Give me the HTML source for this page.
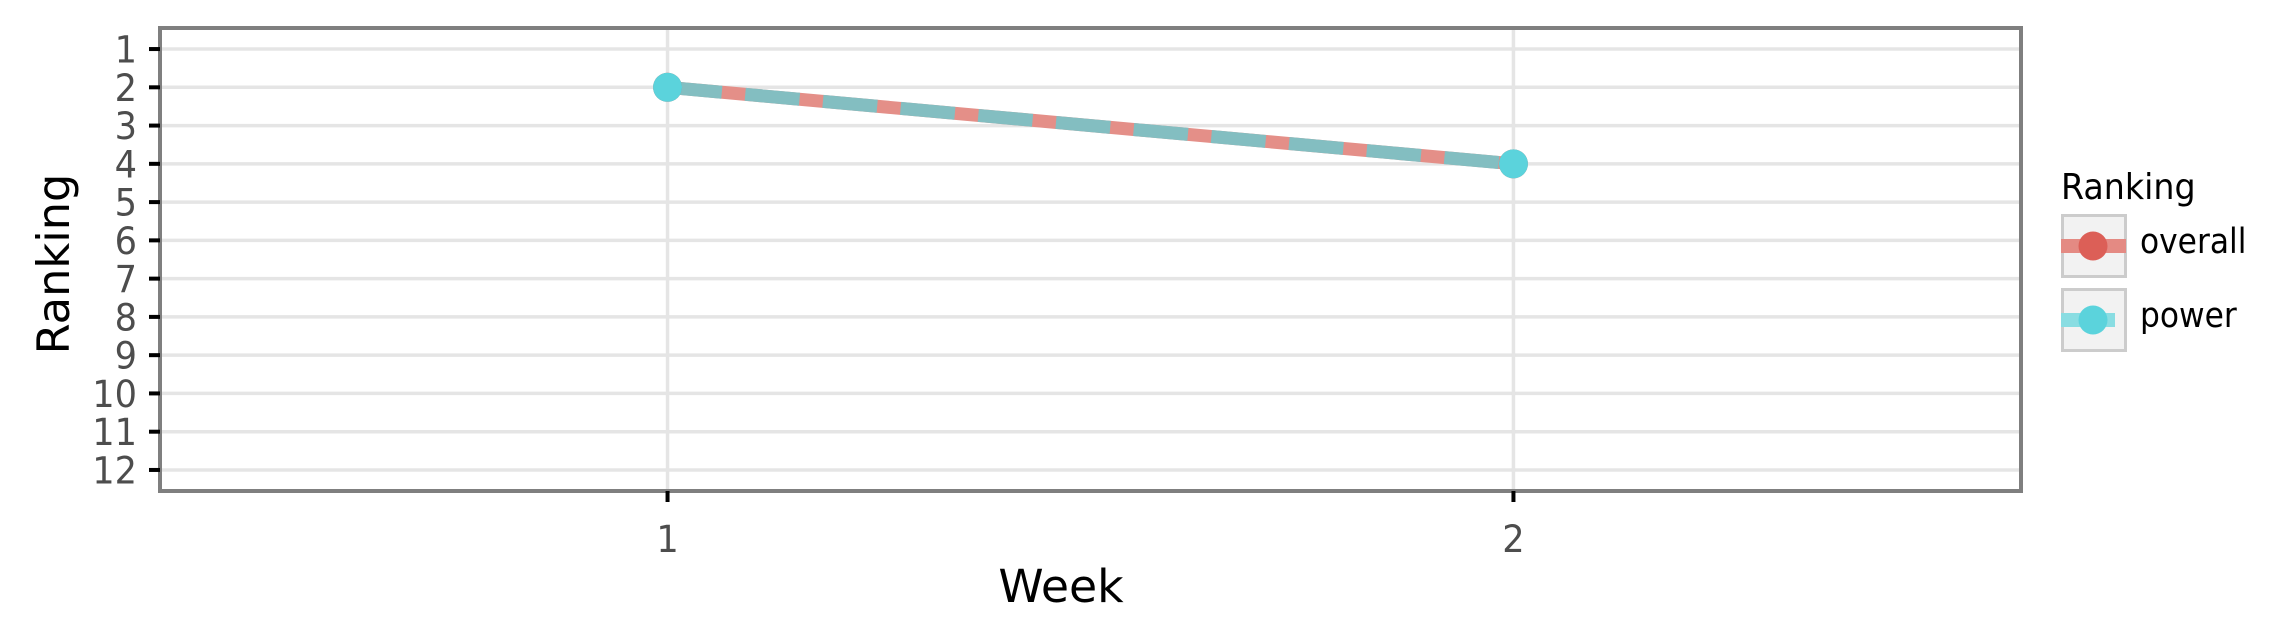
<!DOCTYPE html>
<html><head><meta charset="utf-8"><style>
html,body{margin:0;padding:0;background:#fff;}
svg{display:block;font-family:"DejaVu Sans","Liberation Sans",sans-serif;}
</style></head><body>
<svg id="chart" width="2276" height="641" viewBox="0 0 2276 641" xmlns="http://www.w3.org/2000/svg">
<g id="grid"></g>
<g id="series"></g>
<rect x="160" y="28" width="1861" height="463" fill="none" stroke="#7f7f7f" stroke-width="4"/>
<g id="axes"></g>
<text transform="translate(1061,602) scale(1.04,1.04)" font-size="44" text-anchor="middle" fill="#000">Week</text>
<text transform="translate(69,264) rotate(-90) scale(1.04,1.04)" font-size="43" text-anchor="middle" fill="#000">Ranking</text>
<g>
<text transform="translate(2061,199) scale(1.04,1.12)" font-size="32" fill="#000">Ranking</text>
<g>
<rect x="2062.5" y="215.5" width="63" height="61" fill="#f2f2f2" stroke="#cccccc" stroke-width="3"/>
<rect x="2061" y="239" width="65" height="14" fill="#e48a83"/>
<circle cx="2093" cy="246" r="14.5" fill="#dc5f57"/>
<text transform="translate(2140,253) scale(1.08,1.2)" font-size="29" fill="#000">overall</text>
</g>
<g>
<rect x="2062.5" y="289.5" width="63" height="61" fill="#f2f2f2" stroke="#cccccc" stroke-width="3"/>
<rect x="2061" y="313" width="54" height="14" fill="#89dde2"/>
<circle cx="2093" cy="320" r="14.5" fill="#5bd3dc"/>
<text transform="translate(2140,327) scale(1.08,1.2)" font-size="29" fill="#000">power</text>
</g>
</g>
</svg>
<script>
const weeks = [1, 2];
const overallRank = [2, 4];
const powerRank = [2, 4];
const yTicks = [1,2,3,4,5,6,7,8,9,10,11,12];
const xTicks = [1, 2];

const NS = "http://www.w3.org/2000/svg";
const L = 160, R = 2021, T = 28, B = 491;
const xMin = 0.4, xMax = 2.6, yMin = 0.45, yMax = 12.55;
function xs(v){ return L + (v - xMin) / (xMax - xMin) * (R - L); }
function ys(v){ return T + (v - yMin) / (yMax - yMin) * (B - T); }
function mk(tag, attrs, parent){
  const e = document.createElementNS(NS, tag);
  for (const k in attrs) e.setAttribute(k, attrs[k]);
  parent.appendChild(e);
  return e;
}
const grid = document.getElementById('grid');
const axes = document.getElementById('axes');
const series = document.getElementById('series');

yTicks.forEach(t => {
  const y = ys(t);
  const g = mk('line', {x1:L, x2:R, y1:y, y2:y, stroke:'#e5e5e5', 'stroke-width':3.5}, grid);
  
  
  const tk = mk('line', {x1:L-11, x2:L, y1:y, y2:y, stroke:'#000', 'stroke-width':4}, axes);
  
  
  const lb = mk('text', {transform:'translate(' + (L-23) + ',' + (y+13.5) + ') scale(1.1,1.18)', 'font-size':32, 'text-anchor':'end', fill:'#4d4d4d'}, axes);
  lb.textContent = t;
  
  
});
xTicks.forEach(t => {
  const x = xs(t);
  const g = mk('line', {x1:x, x2:x, y1:T, y2:B, stroke:'#e5e5e5', 'stroke-width':3.5}, grid);
  
  
  const tk = mk('line', {x1:x, x2:x, y1:B, y2:B+11, stroke:'#000', 'stroke-width':4}, axes);
  
  
  const lb = mk('text', {transform:'translate(' + x + ',552) scale(1.1,1.18)', 'font-size':32, 'text-anchor':'middle', fill:'#4d4d4d'}, axes);
  lb.textContent = t;
  
  
});

function pts(vals){ return weeks.map((w,i) => xs(w) + ',' + ys(vals[i])).join(' '); }
const lo = mk('polyline', {points:pts(overallRank), fill:'none', stroke:'#e48f88', 'stroke-width':13}, series);


const lp = mk('polyline', {points:pts(powerRank), fill:'none', stroke:'#83bec1', 'stroke-width':13, 'stroke-dasharray':'54.5 23.5'}, series);


weeks.forEach((w,i) => {
  const c = mk('circle', {cx:xs(w), cy:ys(overallRank[i]), r:14.5, fill:'#dc5f57'}, series);
  
  
});
weeks.forEach((w,i) => {
  const c = mk('circle', {cx:xs(w), cy:ys(powerRank[i]), r:14.5, fill:'#5bd3dc'}, series);
  
  
});
</script>
</body></html>
